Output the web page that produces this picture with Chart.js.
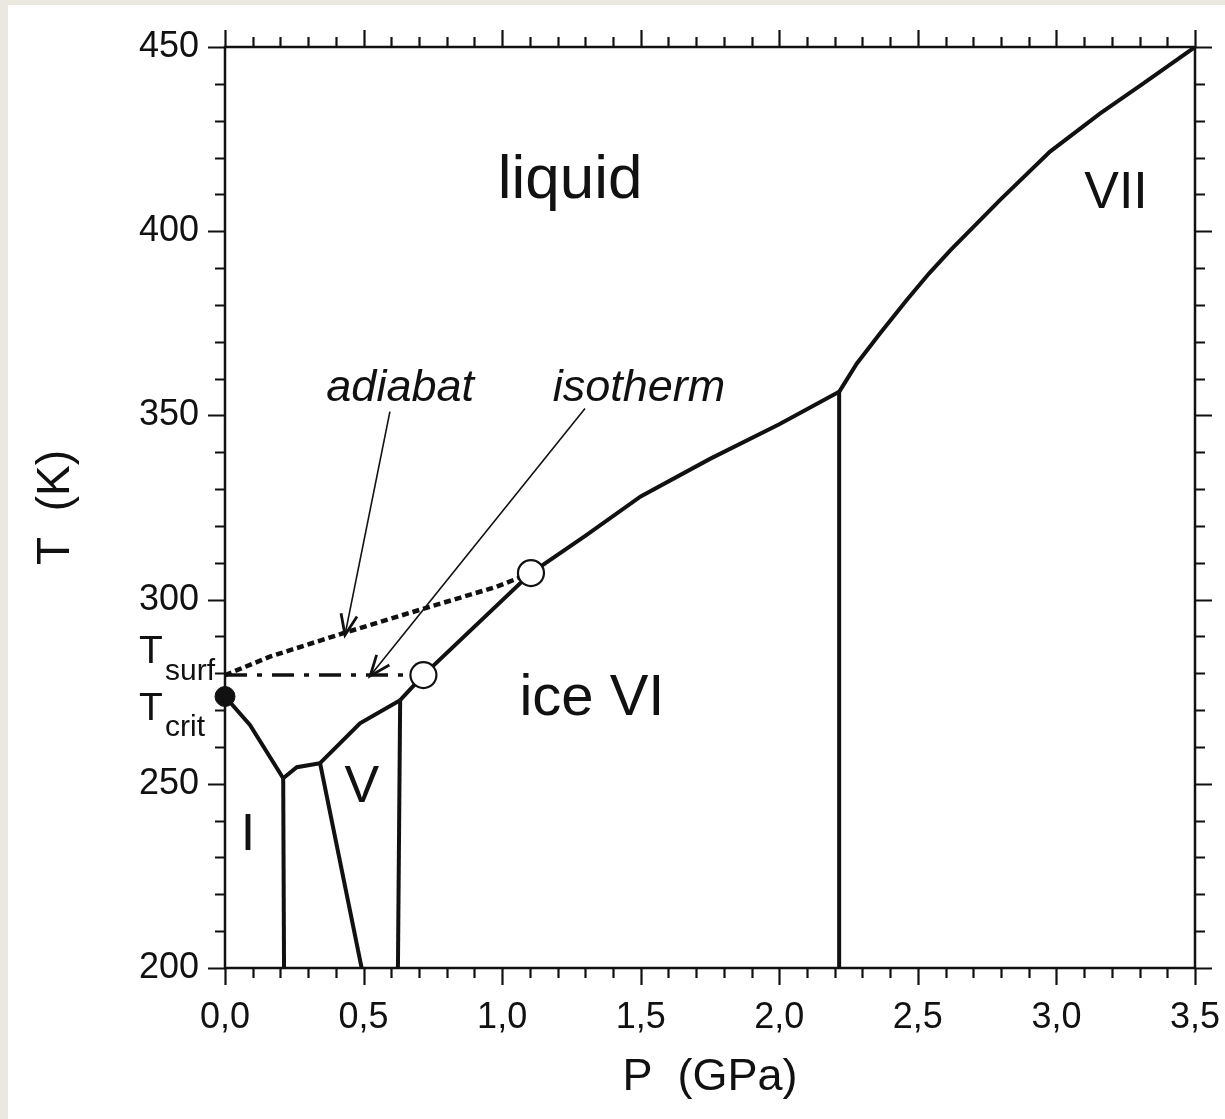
<!DOCTYPE html>
<html>
<head>
<meta charset="utf-8">
<title>Phase diagram of water</title>
<script src="https://cdn.jsdelivr.net/npm/chart.js@4.4.1/dist/chart.umd.min.js"></script>
<style>
  html, body { margin: 0; padding: 0; width: 1225px; height: 1119px; overflow: hidden; background: #ebe8e1; }
  #sheet { position: absolute; left: 8px; top: 5px; width: 1217px; height: 1114px; background: #fff; }
  #phaseChart { position: absolute; left: 0; top: 0; }
</style>
</head>
<body>
<div id="sheet"></div>
<canvas id="phaseChart" width="1225" height="1119"></canvas>
<script>
// Axis tick labels
const pressureLabels = ['0,0', '0,5', '1,0', '1,5', '2,0', '2,5', '3,0', '3,5'];
const temperatureLabels = ['200', '250', '300', '350', '400', '450'];

// Melting curve, split by the ice phase touching the liquid (P in GPa, T in K)
const iceIhP = [0, 0.09, 0.21];
const iceIhT = [273.7, 266.0, 251.5];
const iceIIIP = [0.21, 0.259, 0.343];
const iceIIIT = [251.5, 254.5, 255.6];
const iceVP = [0.343, 0.487, 0.632];
const iceVT = [255.6, 266.4, 272.7];
const iceVIP = [0.632, 0.716, 1.104, 1.3, 1.5, 1.75, 2.0, 2.216];
const iceVIT = [272.7, 279.5, 307.2, 317.3, 328.0, 338.2, 347.6, 356.4];
const iceVIIP = [2.216, 2.28, 2.364, 2.46, 2.54, 2.617, 2.797, 2.977, 3.158, 3.314, 3.5];
const iceVIIT = [356.4, 364.1, 372.3, 381.3, 388.5, 394.8, 408.5, 421.6, 432.0, 440.1, 450];

// Solid-solid boundaries running down to 200 K
const ihIIIP = [0.21, 0.213];
const ihIIIT = [251.5, 200];
const iiiVP = [0.343, 0.493];
const iiiVT = [255.6, 200];
const vViP = [0.632, 0.624];
const vViT = [272.7, 200];
const viViiP = [2.216, 2.216];
const viViiT = [356.4, 200];

// Ocean temperature profiles
const adiabatP = [0, 0.162, 0.427, 0.68, 0.98, 1.104];
const adiabatT = [279.5, 284.5, 290.9, 296.7, 303.5, 307.2];
const isothermP = [0, 0.716];
const isothermT = [279.5, 279.5];

// Where each profile meets the melting curve
const meetP = [0.716, 1.104];
const meetT = [279.5, 307.2];

const tSurf = 279.5;
const tCrit = 273.7;

// Leader lines from the profile names
const adiabatArrowP = [0.595, 0.433];
const adiabatArrowT = [351.0, 290.4];
const isothermArrowP = [1.299, 0.524];
const isothermArrowT = [351.9, 279.3];

const pts = (P, T) => P.map((p, i) => ({ x: p, y: T[i] }));

const ink = '#111';
const font = '"Liberation Sans", Arial, Helvetica, sans-serif';

function curve(P, T, extra) {
    return Object.assign({
        data: pts(P, T),
        showLine: true,
        borderColor: ink,
        borderWidth: 4,
        pointRadius: 0,
        tension: 0,
        order: 2
    }, extra || {});
}

// Region names and profile names, placed in data space
const regionLabels = [
    { text: 'liquid', p: 1.245, t: 409.0, size: 62, style: '' },
    { text: 'VII', p: 3.215, t: 406.3, size: 52, style: '' },
    { text: 'ice VI', p: 1.324, t: 268.7, size: 58, style: '' },
    { text: 'V', p: 0.494, t: 245.0, size: 52, style: '' },
    { text: 'I', p: 0.083, t: 232.0, size: 52, style: '' },
    { text: 'adiabat', p: 0.632, t: 353.9, size: 45, style: 'italic ' },
    { text: 'isotherm', p: 1.494, t: 353.9, size: 45, style: 'italic ' }
];

function arrowHead(ctx, x0, y0, x1, y1) {
    const ang = Math.atan2(y1 - y0, x1 - x0);
    const len = 22, spread = 0.38;
    ctx.beginPath();
    ctx.moveTo(x1 - len * Math.cos(ang - spread), y1 - len * Math.sin(ang - spread));
    ctx.lineTo(x1, y1);
    ctx.lineTo(x1 - len * Math.cos(ang + spread), y1 - len * Math.sin(ang + spread));
    ctx.stroke();
}

const phaseDecor = {
    id: 'phaseDecor',
    afterDatasetsDraw(chart) {
        const { ctx, chartArea: a, scales: { x, y } } = chart;
        ctx.save();
        ctx.strokeStyle = ink;
        ctx.fillStyle = ink;
        ctx.lineCap = 'butt';

        // arrowheads
        ctx.lineWidth = 2.8;
        ctx.lineJoin = 'miter';
        [[adiabatArrowP, adiabatArrowT], [isothermArrowP, isothermArrowT]].forEach(([P, T]) => {
            arrowHead(ctx, x.getPixelForValue(P[0]), y.getPixelForValue(T[0]),
                x.getPixelForValue(P[1]), y.getPixelForValue(T[1]));
        });

        // box and ticks on all four sides
        ctx.lineWidth = 2.5;
        ctx.strokeRect(a.left, a.top, a.right - a.left, a.bottom - a.top);
        ctx.lineWidth = 2.2;
        ctx.beginPath();
        for (let i = 0; i <= 35; i++) {
            const px = Math.round(x.getPixelForValue(i / 10)) + 0.5;
            const len = i % 5 === 0 ? 17 : 10;
            ctx.moveTo(px, a.bottom); ctx.lineTo(px, a.bottom + len);
            ctx.moveTo(px, a.top); ctx.lineTo(px, a.top - len);
        }
        for (let t = 200; t <= 450; t += 10) {
            const py = Math.round(y.getPixelForValue(t)) + 0.5;
            const len = t % 50 === 0 ? 17 : 10;
            ctx.moveTo(a.left, py); ctx.lineTo(a.left - len, py);
            ctx.moveTo(a.right, py); ctx.lineTo(a.right + len, py);
        }
        ctx.stroke();

        // region and profile names
        ctx.textAlign = 'center';
        ctx.textBaseline = 'alphabetic';
        regionLabels.forEach(l => {
            ctx.font = l.style + l.size + 'px ' + font;
            ctx.fillText(l.text, x.getPixelForValue(l.p), y.getPixelForValue(l.t));
        });

        // T_surf and T_crit beside the temperature axis
        ctx.textAlign = 'left';
        const ys = y.getPixelForValue(tSurf);
        const yc = y.getPixelForValue(tCrit);
        ctx.font = '39px ' + font;
        ctx.fillText('T', 139, ys - 12);
        ctx.fillText('T', 139, yc + 24);
        ctx.font = '30px ' + font;
        ctx.fillText('surf', 165, ys + 5);
        ctx.fillText('crit', 165, yc + 40);
        ctx.restore();
    }
};

new Chart(document.getElementById('phaseChart'), {
    type: 'scatter',
    data: {
        datasets: [
            // contact points and the critical temperature mark
            {
                data: pts(meetP, meetT),
                pointRadius: 13,
                pointBackgroundColor: '#fff',
                pointBorderColor: ink,
                pointBorderWidth: 2.2,
                showLine: false,
                order: 0
            },
            {
                data: [{ x: 0, y: tCrit }],
                pointRadius: 10,
                pointBackgroundColor: ink,
                pointBorderColor: ink,
                showLine: false,
                clip: false,
                order: 0
            },
            curve(iceIhP, iceIhT),
            curve(iceIIIP, iceIIIT),
            curve(iceVP, iceVT),
            curve(iceVIP, iceVIT),
            curve(iceVIIP, iceVIIT),
            curve(ihIIIP, ihIIIT),
            curve(iiiVP, iiiVT),
            curve(vViP, vViT),
            curve(viViiP, viViiT),
            curve(adiabatP, adiabatT, { borderWidth: 4.5, borderDash: [7, 4], order: 1 }),
            curve(isothermP, isothermT, { borderWidth: 3.5, borderDash: [22, 10, 5, 10], order: 1 }),
            curve(adiabatArrowP, adiabatArrowT, { borderWidth: 1.6, order: 1 }),
            curve(isothermArrowP, isothermArrowT, { borderWidth: 1.6, order: 1 })
        ]
    },
    options: {
        responsive: false,
        animation: false,
        layout: { padding: { left: 0, top: 47, right: 30, bottom: 0 } },
        plugins: {
            legend: { display: false },
            tooltip: { enabled: false }
        },
        scales: {
            x: {
                type: 'linear',
                min: 0,
                max: 3.5,
                afterFit: s => {
                    s.height = 151;
                    // the end labels may overhang the plot, so no extra side padding
                    s.paddingLeft = 0;
                    s.paddingRight = 0;
                },
                grid: { display: false, drawTicks: false },
                border: { display: false },
                ticks: {
                    stepSize: 0.5,
                    autoSkip: false,
                    maxRotation: 0,
                    padding: 28,
                    color: ink,
                    font: { family: font, size: 36 },
                    callback: (v, i) => pressureLabels[i]
                },
                title: {
                    display: true,
                    text: 'P  (GPa)',
                    color: ink,
                    font: { family: font, size: 45 },
                    padding: { top: 0, bottom: 14 }
                }
            },
            y: {
                type: 'linear',
                min: 200,
                max: 450,
                afterFit: s => {
                    s.width = 225;
                    s.paddingTop = 0;
                    s.paddingBottom = 0;
                },
                grid: { display: false, drawTicks: false },
                border: { display: false },
                ticks: {
                    stepSize: 50,
                    autoSkip: false,
                    padding: 26,
                    color: ink,
                    font: { family: font, size: 36 },
                    callback: (v, i) => temperatureLabels[i]
                },
                title: {
                    display: true,
                    text: 'T  (K)',
                    color: ink,
                    font: { family: font, size: 46 },
                    padding: { top: 29, bottom: 0 }
                }
            }
        }
    },
    plugins: [phaseDecor]
});
</script>
</body>
</html>
